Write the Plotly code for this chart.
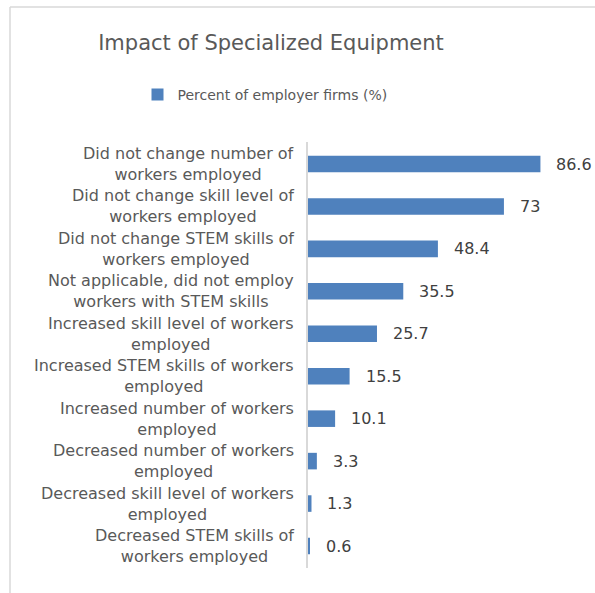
import plotly.graph_objects as go

categories = [
    "Did not change number of<br>workers employed",
    "Did not change skill level of<br>workers employed",
    "Did not change STEM skills of<br>workers employed",
    "Not applicable, did not employ<br>workers with STEM skills",
    "Increased skill level of workers<br>employed",
    "Increased STEM skills of workers<br>employed",
    "Increased number of workers<br>employed",
    "Decreased number of workers<br>employed",
    "Decreased skill level of workers<br>employed",
    "Decreased STEM skills of<br>workers employed",
]
values = [86.6, 73, 48.4, 35.5, 25.7, 15.5, 10.1, 3.3, 1.3, 0.6]
series_name = "Percent of employer firms (%)"
title_text = "Impact of Specialized Equipment"

W, H = 595, 593
L, R, T, B = 308, 595 - 577, 142, 593 - 568
pw, ph = W - L - R, H - T - B

FONT = "DejaVu Sans"
BAR = "#4f81bd"

fig = go.Figure()
fig.add_trace(go.Bar(
    y=categories, x=values, orientation="h", name=series_name,
    marker=dict(color=BAR, line=dict(width=0)), width=0.39,
    showlegend=True,
))

annotations = []
for c, v in zip(categories, values):
    annotations.append(dict(
        x=-12 / pw, xref="paper", y=c, yref="y", text=c, showarrow=False,
        xanchor="right", yanchor="middle", align="center",
        font=dict(family=FONT, size=16, color="#595959"),
    ))
    annotations.append(dict(
        x=v, xref="x", y=c, yref="y", text=str(v), showarrow=False,
        xanchor="left", yanchor="middle", xshift=14,
        font=dict(family=FONT, size=16, color="#404040"),
    ))

shapes = [
    dict(type="line", xref="paper", yref="paper",
         x0=(10 - L) / pw, x1=(600 - L) / pw, y0=(H - B - 7) / ph, y1=(H - B - 7) / ph,
         line=dict(color="#d9d9d9", width=1.5)),
    dict(type="line", xref="paper", yref="paper",
         x0=(10 - L) / pw, x1=(10 - L) / pw, y0=(H - B - 7) / ph, y1=-(B + 10) / ph,
         line=dict(color="#d9d9d9", width=1.5)),
]

fig.update_layout(
    width=W, height=H,
    margin=dict(l=L, r=R, t=T, b=B),
    paper_bgcolor="white", plot_bgcolor="white",
    title=dict(text=title_text, x=271 / W, xref="container", xanchor="center",
               y=1 - 43 / H, yref="container", yanchor="middle",
               font=dict(family=FONT, size=21, color="#595959")),
    legend=dict(orientation="h", x=265 / W, xref="container", xanchor="center",
                y=1 - 95 / H, yref="container", yanchor="middle",
                font=dict(family=FONT, size=14, color="#595959"),
                itemwidth=30, bgcolor="rgba(0,0,0,0)"),
    xaxis=dict(range=[0, pw / 2.684], visible=False, fixedrange=True),
    yaxis=dict(autorange="reversed", showticklabels=False, showgrid=False,
               showline=True, linecolor="#d9d9d9", linewidth=1.5, ticks="",
               zeroline=False),
    bargap=0.61,
    annotations=annotations,
    shapes=shapes,
)

fig.write_html("out.html")
